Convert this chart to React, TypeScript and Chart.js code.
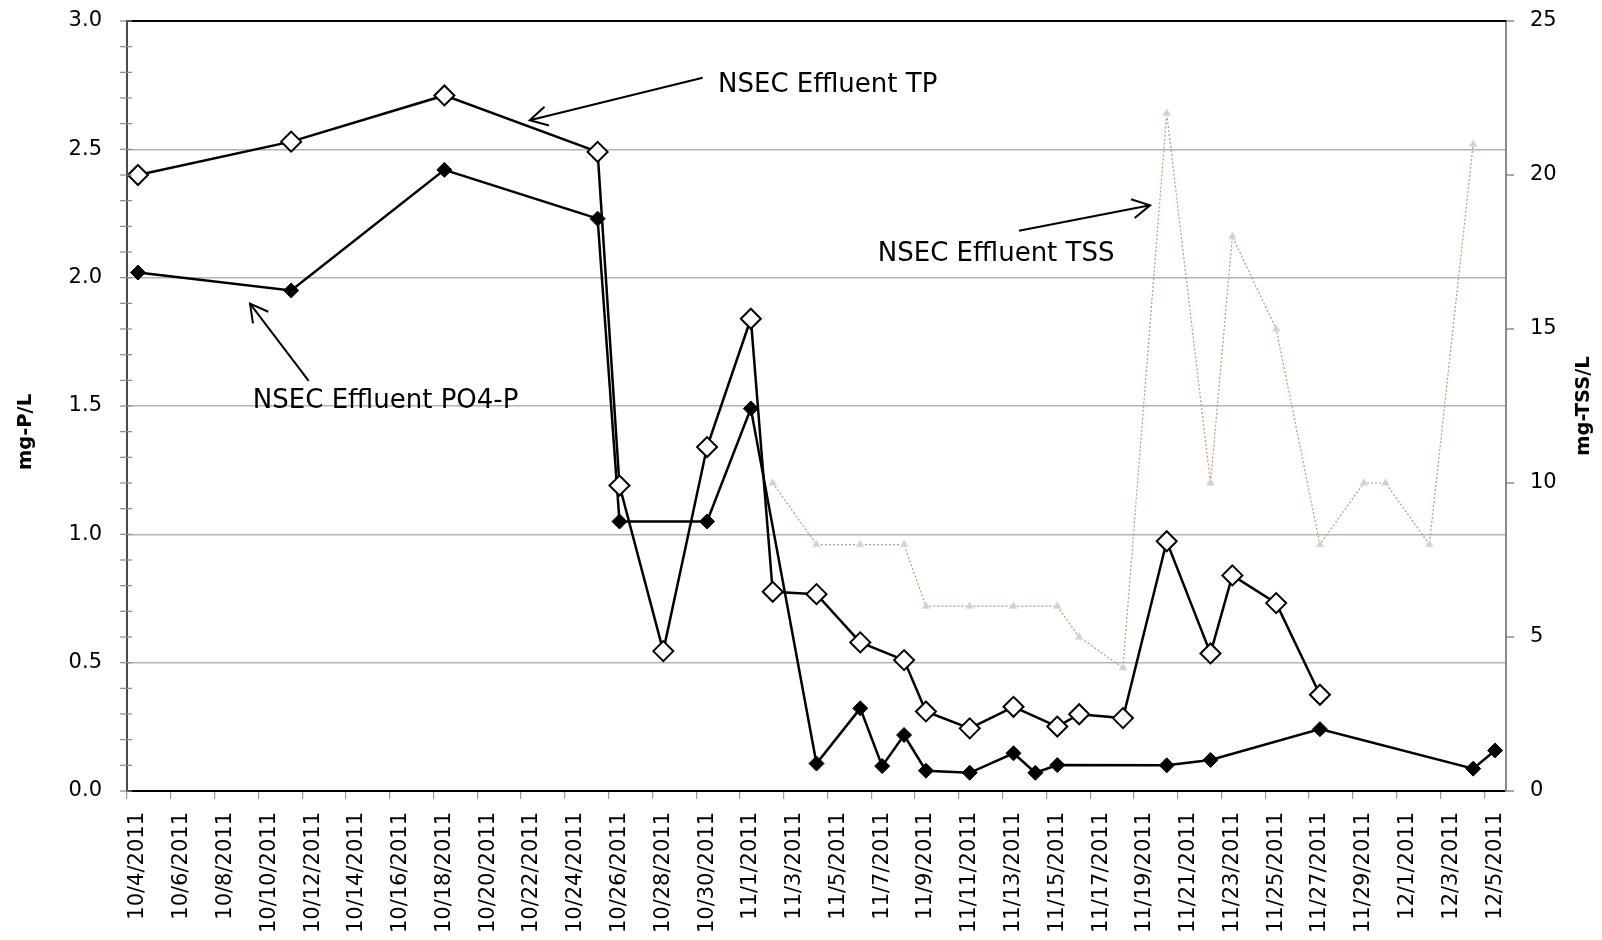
import React, { useEffect, useRef } from 'react';
import { Chart, registerables } from 'chart.js';

Chart.register(...registerables);

// ---- Data ----
const firstDay = { year: 2011, month: 10, day: 4 };
const dayCount = 63; // 10/4/2011 .. 12/5/2011

const tpDates = ['10/4/2011', '10/11/2011', '10/18/2011', '10/25/2011', '10/26/2011', '10/28/2011', '10/30/2011', '11/1/2011', '11/2/2011', '11/4/2011', '11/6/2011', '11/8/2011', '11/9/2011', '11/11/2011', '11/13/2011', '11/15/2011', '11/16/2011', '11/18/2011', '11/20/2011', '11/22/2011', '11/23/2011', '11/25/2011', '11/27/2011'];
const tpValues = [2.40, 2.53, 2.71, 2.49, 1.19, 0.545, 1.34, 1.84, 0.776, 0.767, 0.579, 0.51, 0.31, 0.244, 0.328, 0.251, 0.299, 0.284, 0.973, 0.536, 0.84, 0.732, 0.375];

const po4Dates = ['10/4/2011', '10/11/2011', '10/18/2011', '10/25/2011', '10/26/2011', '10/30/2011', '11/1/2011', '11/4/2011', '11/6/2011', '11/7/2011', '11/8/2011', '11/9/2011', '11/11/2011', '11/13/2011', '11/14/2011', '11/15/2011', '11/20/2011', '11/22/2011', '11/27/2011', '12/4/2011', '12/5/2011'];
const po4Values = [2.02, 1.95, 2.42, 2.23, 1.05, 1.05, 1.49, 0.107, 0.322, 0.097, 0.218, 0.079, 0.071, 0.147, 0.071, 0.101, 0.10, 0.121, 0.241, 0.087, 0.158];

const tssDates = ['11/2/2011', '11/4/2011', '11/6/2011', '11/8/2011', '11/9/2011', '11/11/2011', '11/13/2011', '11/15/2011', '11/16/2011', '11/18/2011', '11/20/2011', '11/22/2011', '11/23/2011', '11/25/2011', '11/27/2011', '11/29/2011', '11/30/2011', '12/2/2011', '12/4/2011'];
const tssValues = [10, 8, 8, 8, 6, 6, 6, 6, 5, 4, 22, 10, 18, 15, 8, 10, 10, 8, 21];

const leftTickValues = [0, 0.1, 0.2, 0.3, 0.4, 0.5, 0.6, 0.7, 0.8, 0.9, 1.0, 1.1, 1.2, 1.3, 1.4, 1.5, 1.6, 1.7, 1.8, 1.9, 2.0, 2.1, 2.2, 2.3, 2.4, 2.5, 2.6, 2.7, 2.8, 2.9, 3.0];
const leftLabelValues = [0, 0.5, 1.0, 1.5, 2.0, 2.5, 3.0];
const rightTickValues = [0, 5, 10, 15, 20, 25];

const leftTitle = 'mg-P/L';
const rightTitle = 'mg-TSS/L';

// annotations in (day index, left-axis value) coordinates
const annotations = [
  { text: 'NSEC Effluent TP', textAt: [26.5, 2.749], tail: [25.8, 2.779], tip: [17.9, 2.613] },
  { text: 'NSEC Effluent PO4-P', textAt: [5.25, 1.519], tail: [7.8, 1.598], tip: [5.12, 1.899] },
  { text: 'NSEC Effluent TSS', textAt: [33.8, 2.091], tail: [40.25, 2.183], tip: [46.24, 2.282] },
];

const dayLabels: string[] = Array.from({ length: dayCount }, (_, i) => {
  const d = new Date(firstDay.year, firstDay.month - 1, firstDay.day + i);
  return `${d.getMonth() + 1}/${d.getDate()}/${d.getFullYear()}`;
});

const toPoints = (dates: string[], values: number[]) => dates.map((x, i) => ({ x, y: values[i] }));

const FONT = '"DejaVu Sans", Verdana, sans-serif';
const CLEAR = 'rgba(0,0,0,0)';

const decorPlugin = {
  id: 'decor',
  afterDraw(chart: any) {
    const { ctx, chartArea, scales } = chart;
    const xs = scales.x;
    const ys = scales.y;
    const ys2 = scales.y2;
    ctx.save();
    // top frame line
    ctx.strokeStyle = '#000';
    ctx.lineWidth = 2;
    ctx.beginPath();
    ctx.moveTo(chartArea.left - 1, chartArea.top);
    ctx.lineTo(chartArea.right + 1, chartArea.top);
    ctx.stroke();

    // minor ticks crossing the left axis
    ctx.strokeStyle = '#8a8a8a';
    ctx.lineWidth = 1.2;
    leftTickValues.forEach((v) => {
      const py = ys.getPixelForValue(v);
      ctx.beginPath();
      ctx.moveTo(chartArea.left - 7, py);
      ctx.lineTo(chartArea.left + 5, py);
      ctx.stroke();
    });
    // right axis ticks (outside)
    ctx.lineWidth = 1.5;
    rightTickValues.forEach((v) => {
      const py = ys2.getPixelForValue(v);
      ctx.beginPath();
      ctx.moveTo(chartArea.right, py);
      ctx.lineTo(chartArea.right + 8, py);
      ctx.stroke();
    });

    // axis titles (both read bottom-to-top)
    ctx.fillStyle = '#000';
    ctx.font = `bold 19.5px ${FONT}`;
    ctx.textAlign = 'center';
    ctx.textBaseline = 'middle';
    const midY = (chartArea.top + chartArea.bottom) / 2;
    ctx.save();
    ctx.translate(26, midY + 26);
    ctx.rotate(-Math.PI / 2);
    ctx.fillText(leftTitle, 0, 0);
    ctx.restore();
    ctx.save();
    ctx.translate(1584, midY);
    ctx.rotate(-Math.PI / 2);
    ctx.fillText(rightTitle, 0, 0);
    ctx.restore();

    // annotations
    ctx.font = `26px ${FONT}`;
    ctx.textAlign = 'left';
    ctx.textBaseline = 'middle';
    ctx.strokeStyle = '#000';
    ctx.lineWidth = 2;
    annotations.forEach((a) => {
      ctx.fillText(a.text, xs.getPixelForValue(a.textAt[0]), ys.getPixelForValue(a.textAt[1]));
      const x1 = xs.getPixelForValue(a.tail[0]);
      const y1 = ys.getPixelForValue(a.tail[1]);
      const x2 = xs.getPixelForValue(a.tip[0]);
      const y2 = ys.getPixelForValue(a.tip[1]);
      ctx.beginPath();
      ctx.moveTo(x1, y1);
      ctx.lineTo(x2, y2);
      ctx.stroke();
      const ang = Math.atan2(y2 - y1, x2 - x1);
      const len = 20;
      const spread = 0.5;
      ctx.beginPath();
      ctx.moveTo(x2 - len * Math.cos(ang - spread), y2 - len * Math.sin(ang - spread));
      ctx.lineTo(x2, y2);
      ctx.lineTo(x2 - len * Math.cos(ang + spread), y2 - len * Math.sin(ang + spread));
      ctx.stroke();
    });
    ctx.restore();
  },
};

const isOnList = (v: number, list: number[]) => list.some((l) => Math.abs(l - v) < 1e-6);

export default function App() {
  const canvasRef = useRef<HTMLCanvasElement | null>(null);

  useEffect(() => {
    document.body.style.margin = '0';
    const canvas = canvasRef.current;
    if (!canvas) return;
    const chart = new Chart(canvas, {
      type: 'line',
      data: {
        labels: dayLabels,
        datasets: [
          {
            label: 'NSEC Effluent TP',
            data: toPoints(tpDates, tpValues) as any,
            yAxisID: 'y',
            borderColor: '#000',
            borderWidth: 2.5,
            pointStyle: 'rectRot',
            pointRadius: 10,
            pointBackgroundColor: '#fff',
            pointBorderColor: '#000',
            pointBorderWidth: 2,
            tension: 0,
            order: 1,
          },
          {
            label: 'NSEC Effluent PO4-P',
            data: toPoints(po4Dates, po4Values) as any,
            yAxisID: 'y',
            borderColor: '#000',
            borderWidth: 2.5,
            pointStyle: 'rectRot',
            pointRadius: 7.5,
            pointBackgroundColor: '#000',
            pointBorderColor: '#000',
            pointBorderWidth: 1,
            tension: 0,
            order: 2,
          },
          {
            label: 'NSEC Effluent TSS',
            data: toPoints(tssDates, tssValues) as any,
            yAxisID: 'y2',
            borderColor: '#c09a6a',
            borderWidth: 1.2,
            borderDash: [2, 2],
            pointStyle: 'triangle',
            pointRadius: 4.5,
            pointBackgroundColor: '#d0d0d0',
            pointBorderColor: '#e2e2e2',
            pointBorderWidth: 1,
            tension: 0,
            order: 3,
          },
        ],
      },
      options: {
        animation: false,
        responsive: true,
        maintainAspectRatio: false,
        events: [],
        layout: { padding: { top: 21, left: 0, right: 0, bottom: 0 } },
        plugins: {
          legend: { display: false },
          tooltip: { enabled: false },
          title: { display: false },
        },
        scales: {
          x: {
            type: 'category',
            labels: dayLabels,
            offset: true,
            afterFit: (s: any) => {
              s.height = 149;
            },
            ticks: {
              autoSkip: false,
              maxRotation: 90,
              minRotation: 90,
              padding: 13,
              color: '#000',
              font: { family: FONT, size: 21 },
              callback: (_v: any, i: number) => (i % 2 === 0 ? dayLabels[i] : ''),
            },
            grid: {
              offset: true,
              drawOnChartArea: false,
              tickLength: 8,
              lineWidth: 1.2,
              color: (c: any) => (c.index !== undefined && c.index % 2 === 0 ? '#9a9a9a' : CLEAR),
            },
            border: { color: '#000', width: 2 },
          },
          y: {
            type: 'linear',
            position: 'left',
            min: 0,
            max: 3,
            afterFit: (s: any) => {
              s.width = 127;
            },
            afterBuildTicks: (s: any) => {
              s.ticks = leftTickValues.map((value) => ({ value }));
            },
            ticks: {
              autoSkip: false,
              padding: 0,
              color: '#000',
              font: { family: FONT, size: 21 },
              callback: (v: any) => (isOnList(Number(v), leftLabelValues) ? Number(v).toFixed(1) : ''),
            },
            grid: {
              drawTicks: true,
              tickLength: 25,
              tickColor: CLEAR,
              lineWidth: 1.5,
              color: (c: any) => {
                const v = c.tick ? c.tick.value : -1;
                return isOnList(v, leftLabelValues) && v > 0 && v < 3 ? '#b4b4b4' : CLEAR;
              },
            },
            border: { color: '#4a4a4a', width: 2 },
          },
          y2: {
            type: 'linear',
            position: 'right',
            min: 0,
            max: 25,
            afterFit: (s: any) => {
              s.width = 96;
            },
            afterBuildTicks: (s: any) => {
              s.ticks = rightTickValues.map((value) => ({ value }));
            },
            ticks: {
              padding: 0,
              color: '#000',
              font: { family: FONT, size: 21 },
              callback: (v: any) => String(v),
            },
            grid: {
              drawOnChartArea: false,
              drawTicks: true,
              tickLength: 24,
              tickColor: CLEAR,
              color: CLEAR,
            },
            border: { color: '#8a8a8a', width: 2 },
          },
        },
      },
      plugins: [decorPlugin],
    });
    return () => chart.destroy();
  }, []);

  return (
    <div style={{ position: 'fixed', left: 0, top: 0, width: 1602, height: 940, background: '#fff' }}>
      <canvas ref={canvasRef} />
    </div>
  );
}
